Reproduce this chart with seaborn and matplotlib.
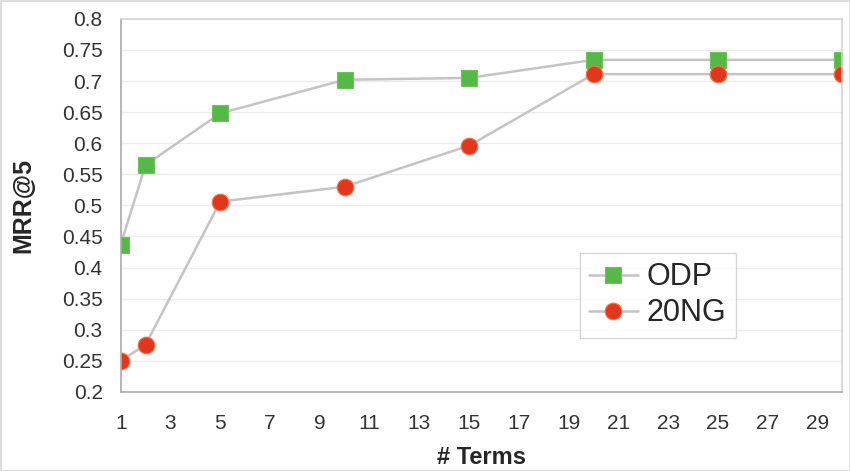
import seaborn as sns
import matplotlib.pyplot as plt
import pandas as pd

terms = [1, 2, 5, 10, 15, 20, 25, 30]
odp = [0.437, 0.565, 0.648, 0.702, 0.705, 0.734, 0.734, 0.734]
ng20 = [0.250, 0.276, 0.506, 0.530, 0.596, 0.711, 0.711, 0.711]
x_ticks = list(range(1, 30, 2))
y_ticks = [0.2, 0.25, 0.3, 0.35, 0.4, 0.45, 0.5, 0.55, 0.6, 0.65, 0.7, 0.75, 0.8]
y_labels = ["0.2", "0.25", "0.3", "0.35", "0.4", "0.45", "0.5", "0.55",
            "0.6", "0.65", "0.7", "0.75", "0.8"]


def main():
    sns.set_style("white")
    plt.rcParams['font.family'] = ['Liberation Sans', 'DejaVu Sans']

    fig = plt.figure(figsize=(8.5, 4.71), dpi=100)
    ax = fig.add_axes([0.142, 0.168, 0.849, 0.792])

    df = pd.DataFrame({"terms": terms, "ODP": odp, "20NG": ng20})

    sns.lineplot(data=df, x="terms", y="ODP", ax=ax, color="#c4c4c4", lw=1.8,
                 marker="s", markersize=12, markerfacecolor="#55b947",
                 markeredgecolor="#6cc35a", markeredgewidth=0.8, label="ODP")
    sns.lineplot(data=df, x="terms", y="20NG", ax=ax, color="#c4c4c4", lw=1.8,
                 marker="o", markersize=12, markerfacecolor="#e2371c",
                 markeredgecolor="#f07a4a", markeredgewidth=0.8, label="20NG")

    ax.set_xlim(1, 30)
    ax.set_ylim(0.2, 0.8)
    ax.set_xticks(x_ticks)
    ax.set_yticks(y_ticks)
    ax.set_yticklabels(y_labels)
    ax.yaxis.grid(True, color="#ececec", lw=1)
    ax.tick_params(axis="both", labelsize=15, colors="#333333", length=4,
                   direction="out", width=1)
    ax.tick_params(axis="x", pad=12, color="#bbbbbb")
    ax.tick_params(axis="y", pad=9, color="#bbbbbb")

    for side in ["left", "bottom"]:
        ax.spines[side].set_color("#aaaaaa")
        ax.spines[side].set_linewidth(1.2)
    for side in ["top", "right"]:
        ax.spines[side].set_color("#d4d4d4")
        ax.spines[side].set_linewidth(1.2)

    ax.set_xlabel("# Terms", fontsize=17, fontweight="bold", labelpad=9)
    ax.set_ylabel("MRR@5", fontsize=18, fontweight="bold", labelpad=19)

    leg = ax.legend(loc="upper left", bbox_to_anchor=(0.636, 0.372), fontsize=22,
                    frameon=True, fancybox=False, handlelength=1.6,
                    handletextpad=0.3, borderpad=0.3, labelspacing=0.2,
                    borderaxespad=0)
    leg.get_frame().set_edgecolor("#cccccc")
    leg.get_frame().set_linewidth(1)

    fig.patch.set_edgecolor("#dddddd")
    fig.patch.set_linewidth(2)

    plt.savefig("out.png", dpi=100, edgecolor=fig.get_edgecolor())


if __name__ == "__main__":
    main()
